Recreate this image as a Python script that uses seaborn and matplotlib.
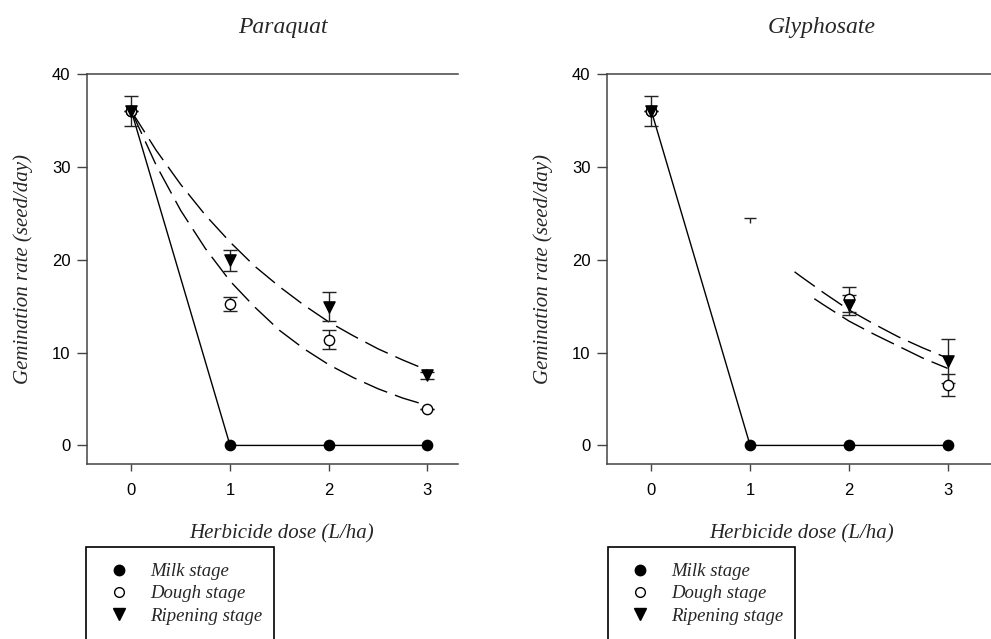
import numpy as np
import pandas as pd
import matplotlib
matplotlib.use("Agg")
import matplotlib.pyplot as plt
from matplotlib.lines import Line2D
from matplotlib.patches import Rectangle
import seaborn as sns

sns.set_theme(style="ticks")
plt.rcParams["font.family"] = ["Liberation Sans", "DejaVu Sans"]

# ---------------- data ----------------
doses = [0, 1, 2, 3]
x_ticks = [0, 1, 2, 3]
y_ticks = [0, 10, 20, 30, 40]
stages = ["Milk stage", "Dough stage", "Ripening stage"]
titles = ["Paraquat", "Glyphosate"]

# Paraquat
pq_milk = [36.0, 0.0, 0.0, 0.0]
pq_dough = [36.0, 15.2, 11.4, 3.9]
pq_dough_err = [0.0, 0.77, 1.04, 0.0]
pq_ripen = [36.0, 19.95, 14.95, 7.55]
pq_ripen_err = [1.6, 1.15, 1.55, 0.35]
# fitted (dashed) curves, read at quarter steps
pq_fit_x = [0, 0.25, 0.5, 0.75, 1.0, 1.25, 1.5, 1.75, 2.0, 2.25, 2.5, 2.75, 3.0]
pq_fit_dough = [36.0, 30.2, 25.3, 21.2, 17.7, 14.9, 12.4, 10.4, 8.7, 7.3, 6.1, 5.1, 4.3]
pq_fit_ripen = [36.0, 31.8, 28.1, 24.8, 21.9, 19.3, 17.1, 15.1, 13.3, 11.8, 10.4, 9.2, 8.1]

# Glyphosate
gl_milk = [36.0, 0.0, 0.0, 0.0]
gl_dose_pts = [0, 2, 3]
gl_dough = [36.0, 15.75, 6.5]
gl_dough_err = [0.0, 1.35, 1.2]
gl_ripen = [36.0, 15.1, 9.1]
gl_ripen_err = [1.6, 1.1, 2.4]
gl_fit_dough_x = [1.65, 1.75, 2.0, 2.25, 2.5, 2.75, 3.0]
gl_fit_dough = [15.8, 15.1, 13.4, 12.0, 10.7, 9.4, 8.3]
gl_fit_ripen_x = [1.45, 1.5, 1.75, 2.0, 2.25, 2.5, 2.75, 3.0]
gl_fit_ripen = [18.7, 18.3, 16.4, 14.6, 13.1, 11.7, 10.5, 9.4]
# stray error-bar cap visible at dose 1
gl_stray_x = [1]
gl_stray_top = [24.5]
gl_stray_bottom = [24.0]

# ---------------- figure ----------------
W, H = 991, 639
fig = plt.figure(figsize=(W / 100, H / 100), dpi=100)

def fx(px):
    return px / W

def fy(py):
    return 1 - py / H

ax1 = fig.add_axes([fx(87), fy(464), fx(371), 390 / H])
ax2 = fig.add_axes([fx(607), fy(464), fx(386), 390 / H])

spine_col = "#444444"
serif = ["Liberation Serif", "DejaVu Serif"]
dash = (0, (18, 6))
msize = 55

def style_axes(ax, xmax, width_px):
    ax.set_xlim(-0.45, xmax)
    ax.set_ylim(-2, 40)
    ax.set_xticks(x_ticks)
    ax.set_yticks(y_ticks)
    ax.set_xticklabels([str(t) for t in x_ticks], fontsize=12)
    ax.set_yticklabels([str(t) for t in y_ticks], fontsize=12)
    for s in ["left", "bottom", "top"]:
        ax.spines[s].set_visible(True)
        ax.spines[s].set_color(spine_col)
        ax.spines[s].set_linewidth(1.1)
    ax.spines["right"].set_visible(False)
    ax.tick_params(axis="x", length=5, width=1, color=spine_col, pad=9, labelcolor="black")
    ax.tick_params(axis="y", length=7, width=1, color=spine_col, pad=5, labelcolor="black")
    ax.set_facecolor("white")
    ax.set_ylabel("Gemination rate (seed/day)", family=serif, style="italic", fontsize=15)
    ax.yaxis.set_label_coords(-54 / width_px, 0.5)
    ax.set_xlabel("Herbicide dose (L/ha)", family=serif, style="italic", fontsize=15)

def markers(ax, x, milk_y, dough_x, dough_y, ripen_y):
    sns.scatterplot(x=x, y=milk_y, ax=ax, marker="o", color="black", edgecolor="black",
                    s=msize, linewidth=1, zorder=5, legend=False)
    sns.scatterplot(x=dough_x, y=dough_y, ax=ax, marker="o", color="white", edgecolor="black",
                    s=msize, linewidth=1, zorder=6, legend=False)
    sns.scatterplot(x=dough_x, y=ripen_y, ax=ax, marker="v", color="black", edgecolor="black",
                    s=msize + 10, linewidth=1, zorder=7, legend=False)

# ---- Paraquat ----
sns.lineplot(x=doses, y=pq_milk, ax=ax1, color="black", lw=1, zorder=3)
sns.lineplot(x=pq_fit_x, y=pq_fit_dough, ax=ax1, color="black", lw=1, linestyle=dash, zorder=3)
sns.lineplot(x=pq_fit_x, y=pq_fit_ripen, ax=ax1, color="black", lw=1, linestyle=dash, zorder=3)
ax1.errorbar(doses, pq_dough, yerr=pq_dough_err, fmt="none", ecolor="#222222", elinewidth=1,
             capsize=5, capthick=1, zorder=4)
ax1.errorbar(doses, pq_ripen, yerr=pq_ripen_err, fmt="none", ecolor="#222222", elinewidth=1,
             capsize=5, capthick=1, zorder=4)
markers(ax1, doses, pq_milk, doses, pq_dough, pq_ripen)

# ---- Glyphosate ----
sns.lineplot(x=doses, y=gl_milk, ax=ax2, color="black", lw=1, zorder=3)
sns.lineplot(x=gl_fit_dough_x, y=gl_fit_dough, ax=ax2, color="black", lw=1, linestyle=dash, zorder=3)
sns.lineplot(x=gl_fit_ripen_x, y=gl_fit_ripen, ax=ax2, color="black", lw=1, linestyle=dash, zorder=3)
ax2.errorbar(gl_dose_pts, gl_dough, yerr=gl_dough_err, fmt="none", ecolor="#222222", elinewidth=1,
             capsize=5, capthick=1, zorder=4)
ax2.errorbar(gl_dose_pts, gl_ripen, yerr=gl_ripen_err, fmt="none", ecolor="#222222", elinewidth=1,
             capsize=5, capthick=1, zorder=4)
ax2.vlines(gl_stray_x, gl_stray_bottom, gl_stray_top, color="#222222", lw=1)
ax2.plot(gl_stray_x, gl_stray_top, marker="_", markersize=8, color="#222222", mew=1, linestyle="none")
markers(ax2, doses, gl_milk, gl_dose_pts, gl_dough, gl_ripen)

style_axes(ax1, 3.31, 371)
style_axes(ax2, 3.46, 386)
ax1.xaxis.set_label_coords((282 - 87) / 371, -0.155)
ax2.xaxis.set_label_coords((802 - 607) / 386, -0.155)

# titles
fig.text(fx(283), fy(27), titles[0], family=serif, style="italic", fontsize=17, ha="center", va="center")
fig.text(fx(822), fy(27), titles[1], family=serif, style="italic", fontsize=17, ha="center", va="center")

# legends
handles = [
    Line2D([], [], marker="o", linestyle="none", color="black", markerfacecolor="black", markersize=7.5),
    Line2D([], [], marker="o", linestyle="none", color="black", markerfacecolor="white", markersize=7, mew=1),
    Line2D([], [], marker="v", linestyle="none", color="black", markerfacecolor="black", markersize=8),
]
for box_l, box_r, marker_x in [(86, 274, 119), (608, 795, 640)]:
    fig.add_artist(Rectangle((fx(box_l), fy(H + 20)), fx(box_r - box_l), (H + 20 - 547) / H,
                             transform=fig.transFigure, fill=False, ec="black", lw=1.2))
    leg = fig.legend(handles, stages, loc="upper left",
                     bbox_to_anchor=(fx(marker_x - 11), fy(563)),
                     frameon=False, borderpad=0, borderaxespad=0, handlelength=1.2,
                     handletextpad=1.04, labelspacing=0.28,
                     prop={"family": serif, "style": "italic", "size": 13.5})

fig.savefig("out.png", dpi=100, facecolor="white")
